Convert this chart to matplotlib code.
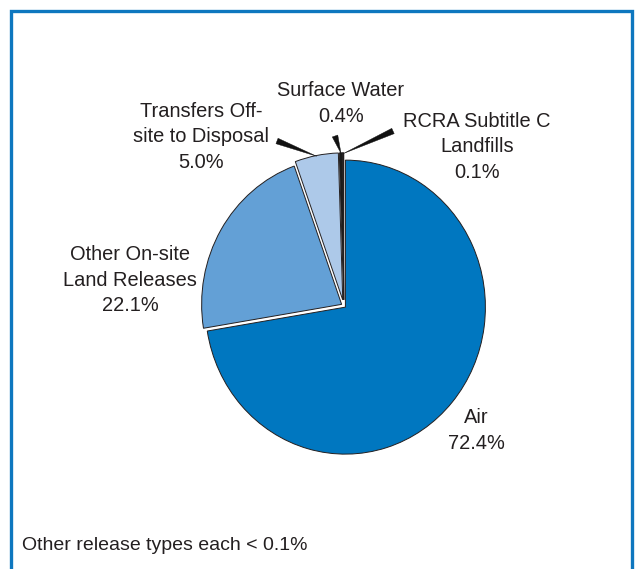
import matplotlib
matplotlib.use("Agg")
import matplotlib.pyplot as plt
from matplotlib.patches import Rectangle
import numpy as np

# ---- data ----
categories = ["Air", "Other On-site\nLand Releases", "Transfers Off-\nsite to Disposal",
              "Surface Water", "RCRA Subtitle C\nLandfills"]
values = [72.4, 22.1, 5.0, 0.4, 0.1]
colors = ["#0077c0", "#63a0d6", "#adc9e9", "#1a1a1a", "#231f20"]
explode = [0.015, 0.018, 0.04, 0.04, 0.04]
footnote = "Other release types each < 0.1%"

W, H = 635, 569
plt.rcParams['font.family'] = ['Liberation Sans', 'DejaVu Sans']
fig = plt.figure(figsize=(W / 100, H / 100), dpi=100)
fig.patch.set_facecolor("white")

def fx(x):
    return x / W

def fy(y):
    return 1 - y / H

# blue frame (open at bottom)
fig.patches.append(Rectangle((fx(11), fy(600)), fx(632) - fx(11), fy(11) - fy(600),
                             transform=fig.transFigure, fill=False,
                             edgecolor="#0e77bf", linewidth=2.4, clip_on=False))

# pie axes (source image is slightly stretched vertically)
cx, cy, rx, ry = 343.8, 305.7, 140, 147
ax = fig.add_axes([fx(cx - 1.25 * rx), fy(cy + 1.25 * ry), 2.5 * rx / W, 2.5 * ry / H])
wedges, _ = ax.pie(values, colors=colors, explode=explode, startangle=90,
                   counterclock=False, radius=1.0,
                   wedgeprops=dict(edgecolor="#231f20", linewidth=0.7))
ax.set_aspect("auto")
ax.set_xlim(-1.25, 1.25)
ax.set_ylim(-1.25, 1.25)
ax.axis("off")

txtc = "#231f20"
fs = 14.4
ls = 1.42

def label(x, y, s):
    fig.text(fx(x), fy(y), s, ha="center", va="center", fontsize=fs,
             color=txtc, linespacing=ls, multialignment="center")

pct = [f"{v:.1f}%" for v in values]
label(476.5, 430.5, f"{categories[0]}\n{pct[0]}")
label(130, 280, f"{categories[1]}\n{pct[1]}")
label(201, 137, f"{categories[2]}\n{pct[2]}")
label(341, 103.5, f"{categories[3]}\n{pct[3]}")
label(477, 147, f"{categories[4]}\n{pct[4]}")

# tapered leader lines
def head(w, f=1.0):
    mid = np.deg2rad((w.theta1 + w.theta2) / 2)
    c = w.center
    return (c[0] + f * w.r * np.cos(mid), c[1] + f * w.r * np.sin(mid))

tails = {2: (277, 141), 3: (335, 136), 4: (393, 131)}
for i, (tx, ty) in tails.items():
    ax.annotate("", xy=head(wedges[i], 0.995), xycoords="data",
                xytext=(tx, H - ty), textcoords="figure pixels",
                arrowprops=dict(arrowstyle="wedge,tail_width=0.3,shrink_factor=0.5",
                                fc="#111111", ec="#111111", lw=0.3,
                                shrinkA=0, shrinkB=0, mutation_scale=14),
                annotation_clip=False)

fig.text(fx(22.5), fy(545), footnote, ha="left", va="center", fontsize=14,
         color=txtc)

fig.savefig("out.png", dpi=100, facecolor="white")
